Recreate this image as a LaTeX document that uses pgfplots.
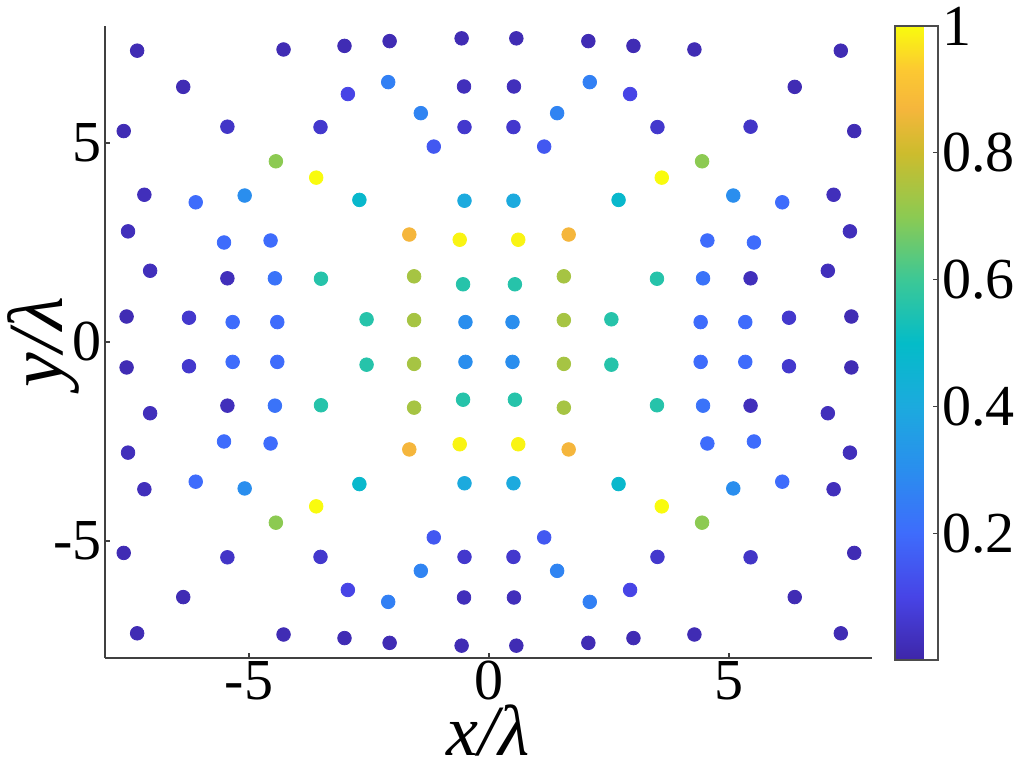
\documentclass[border=0pt]{standalone}
\usepackage{fontspec}
\setmainfont{Liberation Serif}
\usepackage{pgfplots}
\usepackage{pgfplotstable}
\pgfplotsset{compat=1.18}
\pgfplotstableread{
x y c
0.57 7.63 0.02
2.07 7.56 0.02
3.01 7.44 0.02
4.28 7.35 0.02
7.33 7.32 0.02
0.52 6.42 0.03
2.10 6.53 0.26
2.94 6.23 0.10
6.37 6.41 0.02
0.51 5.40 0.06
1.42 5.75 0.27
3.51 5.40 0.06
5.45 5.41 0.05
7.61 5.30 0.02
1.15 4.91 0.15
4.44 4.54 0.70
3.60 4.13 1.00
0.51 3.55 0.40
2.70 3.57 0.48
5.09 3.68 0.30
6.11 3.51 0.20
7.18 3.70 0.03
0.61 2.57 0.99
1.66 2.70 0.87
4.55 2.55 0.20
5.52 2.50 0.20
7.52 2.78 0.03
0.54 1.45 0.56
1.56 1.65 0.74
3.50 1.59 0.56
4.46 1.60 0.22
5.45 1.60 0.03
7.06 1.79 0.03
0.49 0.50 0.30
1.56 0.55 0.74
2.55 0.57 0.56
4.41 0.50 0.20
5.34 0.50 0.20
6.25 0.61 0.06
7.55 0.64 0.02
-0.57 7.63 0.02
-2.07 7.56 0.02
-3.01 7.44 0.02
-4.28 7.35 0.02
-7.33 7.32 0.02
-0.52 6.42 0.03
-2.10 6.53 0.26
-2.94 6.23 0.10
-6.37 6.41 0.02
-0.51 5.40 0.06
-1.42 5.75 0.27
-3.51 5.40 0.06
-5.45 5.41 0.05
-7.61 5.30 0.02
-1.15 4.91 0.15
-4.44 4.54 0.70
-3.60 4.13 1.00
-0.51 3.55 0.40
-2.70 3.57 0.48
-5.09 3.68 0.30
-6.11 3.51 0.20
-7.18 3.70 0.03
-0.61 2.57 0.99
-1.66 2.70 0.87
-4.55 2.55 0.20
-5.52 2.50 0.20
-7.52 2.78 0.03
-0.54 1.45 0.56
-1.56 1.65 0.74
-3.50 1.59 0.56
-4.46 1.60 0.22
-5.45 1.60 0.03
-7.06 1.79 0.03
-0.49 0.50 0.30
-1.56 0.55 0.74
-2.55 0.57 0.56
-4.41 0.50 0.20
-5.34 0.50 0.20
-6.25 0.61 0.06
-7.55 0.64 0.02
0.57 -7.63 0.02
2.07 -7.56 0.02
3.01 -7.44 0.02
4.28 -7.35 0.02
7.33 -7.32 0.02
0.52 -6.42 0.03
2.10 -6.53 0.26
2.94 -6.23 0.10
6.37 -6.41 0.02
0.51 -5.40 0.06
1.42 -5.75 0.27
3.51 -5.40 0.06
5.45 -5.41 0.05
7.61 -5.30 0.02
1.15 -4.91 0.15
4.44 -4.54 0.70
3.60 -4.13 1.00
0.51 -3.55 0.40
2.70 -3.57 0.48
5.09 -3.68 0.30
6.11 -3.51 0.20
7.18 -3.70 0.03
0.61 -2.57 0.99
1.66 -2.70 0.87
4.55 -2.55 0.20
5.52 -2.50 0.20
7.52 -2.78 0.03
0.54 -1.45 0.56
1.56 -1.65 0.74
3.50 -1.59 0.56
4.46 -1.60 0.22
5.45 -1.60 0.03
7.06 -1.79 0.03
0.49 -0.50 0.30
1.56 -0.55 0.74
2.55 -0.57 0.56
4.41 -0.50 0.20
5.34 -0.50 0.20
6.25 -0.61 0.06
7.55 -0.64 0.02
-0.57 -7.63 0.02
-2.07 -7.56 0.02
-3.01 -7.44 0.02
-4.28 -7.35 0.02
-7.33 -7.32 0.02
-0.52 -6.42 0.03
-2.10 -6.53 0.26
-2.94 -6.23 0.10
-6.37 -6.41 0.02
-0.51 -5.40 0.06
-1.42 -5.75 0.27
-3.51 -5.40 0.06
-5.45 -5.41 0.05
-7.61 -5.30 0.02
-1.15 -4.91 0.15
-4.44 -4.54 0.70
-3.60 -4.13 1.00
-0.51 -3.55 0.40
-2.70 -3.57 0.48
-5.09 -3.68 0.30
-6.11 -3.51 0.20
-7.18 -3.70 0.03
-0.61 -2.57 0.99
-1.66 -2.70 0.87
-4.55 -2.55 0.20
-5.52 -2.50 0.20
-7.52 -2.78 0.03
-0.54 -1.45 0.56
-1.56 -1.65 0.74
-3.50 -1.59 0.56
-4.46 -1.60 0.22
-5.45 -1.60 0.03
-7.06 -1.79 0.03
-0.49 -0.50 0.30
-1.56 -0.55 0.74
-2.55 -0.57 0.56
-4.41 -0.50 0.20
-5.34 -0.50 0.20
-6.25 -0.61 0.06
-7.55 -0.64 0.02
}\pts
\begin{document}
\begin{tikzpicture}
\begin{axis}[
  name=main,
  scale only axis, width=383.5pt, height=316pt,
  xmin=-8, xmax=7.98, ymin=-7.94, ymax=7.94,
  axis x line*=bottom, axis y line*=left,
  axis line style={black!75, line width=0.8pt},
  tick style={black!75, line width=0.8pt},
  tick align=inside, major tick length=2.5pt,
  xtick={-5,0,5}, xticklabels={-5,0,5},
  ytick={-5,0,5}, yticklabels={-5,0,5},
  tick label style={font=\fontsize{29}{30}\selectfont},
  xticklabel style={inner sep=0pt, yshift=-1.5pt},
  yticklabel style={inner sep=0pt, xshift=-1.5pt},
  xlabel={\textit{x/λ}},
  xlabel style={at={(axis description cs:0.5,-0.154)}, anchor=base, font=\fontsize{36}{38}\selectfont, inner sep=0pt},
  ylabel={\textit{y/λ}},
  ylabel style={at={(axis description cs:-0.0548,0.5)}, anchor=base, font=\fontsize{39}{41}\selectfont, inner sep=0pt},
  colormap={parula}{
    rgb255(0cm)=(62,38,168);
    rgb255(10cm)=(71,68,230);
    rgb255(20cm)=(62,108,252);
    rgb255(30cm)=(42,142,238);
    rgb255(40cm)=(28,170,222);
    rgb255(50cm)=(4,188,200);
    rgb255(60cm)=(60,200,150);
    rgb255(70cm)=(140,202,82);
    rgb255(80cm)=(205,188,45);
    rgb255(87cm)=(245,182,60);
    rgb255(93cm)=(252,200,50);
    rgb255(100cm)=(249,251,14)
  },
  point meta min=0, point meta max=1,
  colorbar,
  colorbar style={
    at={(parent axis.north east)}, anchor=north west, xshift=3pt,
    scale only axis, width=21.5pt, height=317pt,
    ytick={0.2,0.4,0.6,0.8,1}, yticklabels={0.2,0.4,0.6,0.8,1},
    ytick pos=right, yticklabel pos=right,
    tick align=inside, major tick length=2.5pt,
    axis line style={black!70, line width=0.6pt},
    tick style={black!75, line width=0.6pt},
    yticklabel style={font=\fontsize{29}{30}\selectfont, inner sep=0pt, xshift=2pt},
  },
]
\addplot[scatter, only marks, mark=*, mark size=3.4pt, scatter src=explicit,
  scatter/use mapped color={draw=mapped color, fill=mapped color}]
  table[x=x, y=y, meta=c] {\pts};
\end{axis}
\pgfresetboundingbox
\path ([shift={(-52.5pt,-56pt)}]main.south west) rectangle ([shift={(75pt,13pt)}]main.north east);
\end{tikzpicture}
\end{document}
